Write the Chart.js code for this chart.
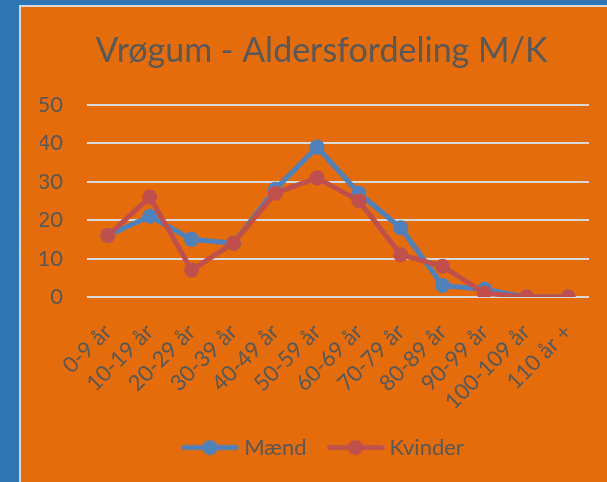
<!DOCTYPE html>
<html><head><meta charset="utf-8">
<script src="https://cdn.jsdelivr.net/npm/chart.js@4"></script>
<style>
html,body{margin:0;padding:0;}
body{background:#2E75B6;width:607px;height:482px;overflow:hidden;position:relative;}
#box{position:absolute;left:19px;top:5px;width:588px;height:477px;border-left:2px solid #D9D9D9;border-top:2px solid #D9D9D9;background:#E46C0A;}
canvas{display:block;}
</style></head><body>
<div id="box"><canvas id="c" width="586" height="475"></canvas></div>
<script>
const categories = ["0-9 år","10-19 år","20-29 år","30-39 år","40-49 år","50-59 år","60-69 år","70-79 år","80-89 år","90-99 år","100-109 år","110 år +"];
const maend   = [16, 21, 15, 14, 28, 39, 27, 18, 3, 2, 0, 0];
const kvinder = [16, 26, 7, 14, 27, 31, 25, 11, 8, 1, 0, 0];
const yTicks  = [0, 10, 20, 30, 40, 50];
const seriesNames = ["Mænd", "Kvinder"];

const BLUE = '#4F81BD', RED = '#C0504D', TXT = '#595959';

function legendIcon(color){
  const c = document.createElement('canvas');
  c.width = 58; c.height = 16;
  const g = c.getContext('2d');
  g.strokeStyle = color; g.lineWidth = 5; g.lineCap = 'round';
  g.beginPath(); g.moveTo(3, 8); g.lineTo(55, 8); g.stroke();
  g.fillStyle = color; g.beginPath(); g.arc(29, 8, 7.5, 0, Math.PI*2); g.fill();
  return c;
}

// nudge title and legend horizontally to match the original's centring
const nudge = {id: 'nudge', afterLayout(chart){
  if (chart.titleBlock) { chart.titleBlock.left += 7; chart.titleBlock.right += 7; }
  if (chart.legend) { chart.legend.left += 11; chart.legend.right += 11; }
}};

function draw(){
  const icons = [legendIcon(BLUE), legendIcon(RED)];
  Chart.defaults.font.family = 'Lato';
  Chart.defaults.color = TXT;
  new Chart(document.getElementById('c'), {
    type: 'line',
    plugins: [nudge],
    data: {
      labels: categories,
      datasets: [
        {label: seriesNames[0], data: maend, borderColor: BLUE, backgroundColor: BLUE, order: 2},
        {label: seriesNames[1], data: kvinder, borderColor: RED, backgroundColor: RED, order: 1}
      ]
    },
    options: {
      responsive: false,
      animation: false,
      events: [],
      elements: {
        line: {borderWidth: 5, tension: 0, borderCapStyle: 'round', borderJoinStyle: 'round'},
        point: {radius: 7.5, borderWidth: 0, hoverRadius: 7.5}
      },
      layout: {padding: {left: 19, right: 18, top: 10, bottom: 13.5}},
      plugins: {
        title: {display: true, text: 'Vrøgum - Aldersfordeling M/K', color: TXT,
          font: {size: 34, weight: 'normal'}, padding: {top: 14, bottom: 33}},
        tooltip: {enabled: false},
        legend: {
          position: 'bottom',
          labels: {
            usePointStyle: true, pointStyleWidth: 46, padding: 26, color: TXT,
            font: {size: 22},
            sort: (a, b) => a.datasetIndex - b.datasetIndex,
            generateLabels(chart) {
              const items = Chart.defaults.plugins.legend.labels.generateLabels(chart);
              items.forEach(it => { it.pointStyle = icons[it.datasetIndex]; });
              return items;
            }
          }
        }
      },
      scales: {
        x: {
          offset: true,
          grid: {display: false},
          border: {display: false},
          ticks: {minRotation: 45, maxRotation: 45, autoSkip: false, font: {size: 22}, color: TXT, padding: 14},
          afterFit(scale){ scale.paddingLeft = 0; scale.paddingRight = 0; scale.height = 113.5; }
        },
        y: {
          min: 0, max: 50,
          afterBuildTicks(axis){ axis.ticks = yTicks.map(v => ({value: v})); },
          grid: {color: '#D9D9D9', lineWidth: 2, drawTicks: false},
          border: {display: false},
          ticks: {font: {size: 22}, color: TXT, padding: 24},
          afterFit(scale){ scale.width = 47; }
        }
      }
    }
  });
}
(document.fonts && document.fonts.load ? document.fonts.load('22px Lato').catch(()=>{}) : Promise.resolve()).then(draw);
</script>
</body></html>
